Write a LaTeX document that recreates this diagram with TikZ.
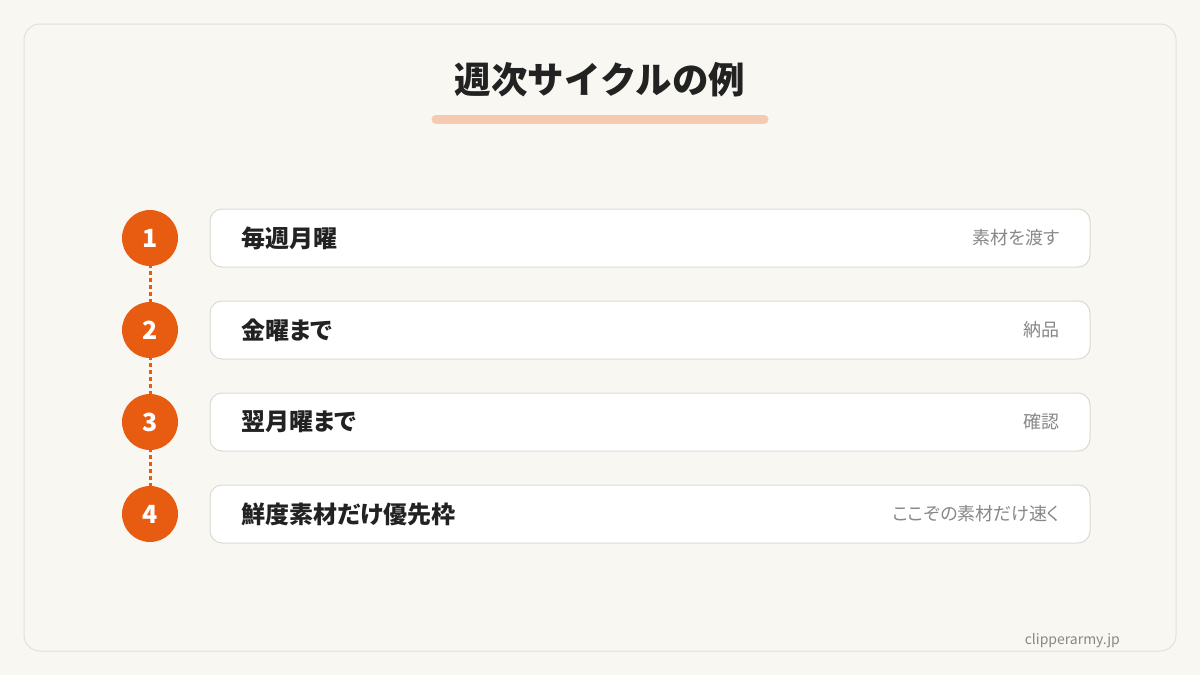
\documentclass[tikz,border=0pt]{standalone}
\usepackage{fontspec}
\setmainfont{Noto Sans CJK JP}[RawFeature=+palt]
\newfontfamily\titlefont{Noto Sans CJK JP}
\definecolor{bgc}{HTML}{F8F7F2}
\definecolor{framec}{HTML}{E2E0DA}
\definecolor{orangec}{HTML}{E85C12}
\definecolor{barc}{HTML}{F6CAB0}
\definecolor{boxline}{HTML}{DCDAD4}
\definecolor{darkt}{HTML}{222222}
\definecolor{grayt}{HTML}{888888}
\tikzset{
  stepcircle/.style={circle, fill=orangec, minimum size=56pt, inner sep=0pt, text=white, font=\fontsize{25}{25}\selectfont\bfseries},
  rowbox/.style={draw=boxline, line width=1pt, fill=white, rounded corners=12pt, minimum width=880pt, minimum height=58pt, inner sep=0pt},
  mainlabel/.style={anchor=west, text=darkt, font=\fontsize{24}{24}\selectfont\bfseries, inner sep=0pt},
  sidelabel/.style={anchor=east, text=grayt, font=\fontsize{18}{18}\selectfont, inner sep=0pt},
  linkline/.style={orangec, line width=3pt, dash pattern=on 4pt off 3pt},
}
\begin{document}
\begin{tikzpicture}[x=1pt,y=-1pt]
\fill[bgc] (0,0) rectangle (1200,675);
\useasboundingbox (0,0) rectangle (1200,675);
\draw[framec, line width=1pt, fill=bgc, rounded corners=16pt] (24,24) rectangle (1176,651);
\node[text=darkt, font=\titlefont\fontsize{36.5}{36.5}\selectfont\bfseries, inner sep=0pt] (title) at (600,80) {週次サイクルの例};
\coordinate (barL) at (436,119);
\coordinate (barR) at (764,119);
\draw[barc, line width=9pt, line cap=round] (barL) -- (barR);
\foreach \i/\y/\main/\side in {1/238/毎週月曜/素材を渡す, 2/330/金曜まで/納品, 3/422/翌月曜まで/確認, 4/514/鮮度素材だけ優先枠/ここぞの素材だけ速く}{
  \node[rowbox] (box\i) at (650,\y) {};
  \node[stepcircle] (c\i) at (150,\y) {\i};
  \node[mainlabel] (m\i) at (241,\y) {\main};
  \node[sidelabel] (s\i) at (1060,\y) {\side};
}
\draw[linkline] ([yshift=2pt]c1.south) -- ([yshift=-4pt]c2.north);
\draw[linkline] ([yshift=2pt]c2.south) -- ([yshift=-4pt]c3.north);
\draw[linkline] ([yshift=2pt]c3.south) -- ([yshift=-4pt]c4.north);
\node[anchor=east, text=grayt, font=\fontsize{14}{14}\selectfont, inner sep=0pt] (foot) at (1120,641) {clipperarmy.jp};
\end{tikzpicture}
\end{document}
